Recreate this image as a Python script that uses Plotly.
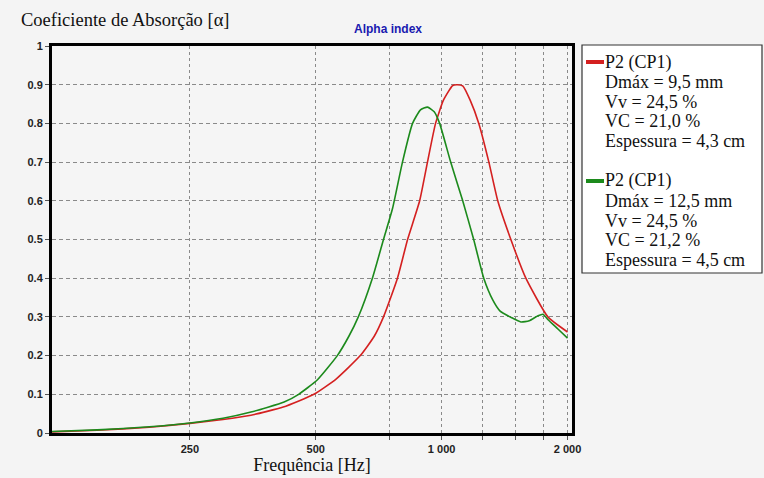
import plotly.graph_objects as go
import numpy as np

# ---- data ----
freq_red = [117, 150, 200, 250, 300, 350, 418, 495, 560, 639, 690, 726, 784, 829, 886,
            925, 967, 1010, 1063, 1090, 1123, 1170, 1227, 1297, 1362, 1464, 1590, 1795, 2000]
alpha_red = [0.003, 0.007, 0.015, 0.025, 0.035, 0.046, 0.067, 0.100, 0.140, 0.200, 0.250, 0.300,
             0.400, 0.500, 0.600, 0.700, 0.800, 0.860, 0.898, 0.900, 0.897, 0.860, 0.800,
             0.700, 0.600, 0.500, 0.400, 0.300, 0.261]

freq_green = [117, 150, 200, 250, 300, 350, 420, 455, 504, 563, 600, 632, 683, 726, 763, 806,
              852, 890, 925, 960, 989, 1051, 1123, 1193, 1261, 1325, 1380, 1470, 1547, 1620,
              1700, 1747, 1800, 1900, 2000]
alpha_green = [0.004, 0.008, 0.016, 0.026, 0.038, 0.054, 0.080, 0.100, 0.137, 0.200, 0.250, 0.300,
               0.400, 0.500, 0.580, 0.700, 0.800, 0.835, 0.842, 0.830, 0.800, 0.700, 0.600, 0.500,
               0.400, 0.344, 0.315, 0.298, 0.287, 0.290, 0.303, 0.307, 0.292, 0.268, 0.245]

x_tick_vals = [250, 500, 1000, 2000]
x_tick_text = ["250", "500", "1 000", "2 000"]
x_grid_extra = [750, 1250, 1500, 1750]
y_tick_vals = [0, 0.1, 0.2, 0.3, 0.4, 0.5, 0.6, 0.7, 0.8, 0.9, 1]
y_tick_text = ["0", "0.1", "0.2", "0.3", "0.4", "0.5", "0.6", "0.7", "0.8", "0.9", "1"]

legend_red = ["P2 (CP1)", "Dmáx = 9,5 mm", "Vv = 24,5 %", "VC = 21,0 %", "Espessura = 4,3 cm"]
legend_green = ["P2 (CP1)", "Dmáx = 12,5 mm", "Vv = 24,5 %", "VC = 21,2 %", "Espessura = 4,5 cm"]

RED = "#d42020"
GREEN = "#1c8a1c"
SERIF = "Liberation Serif, Times New Roman, serif"
SANS = "Liberation Sans, Arial, sans-serif"
TICKFONT = dict(family=SANS, size=11, color="#222", weight="bold")

fig = go.Figure()
fig.add_trace(go.Scatter(x=freq_red, y=alpha_red, mode="lines", name="P2 (CP1) 9,5 mm",
                         line=dict(color=RED, width=1.6, shape="spline", smoothing=0.5),
                         showlegend=False))
fig.add_trace(go.Scatter(x=freq_green, y=alpha_green, mode="lines", name="P2 (CP1) 12,5 mm",
                         line=dict(color=GREEN, width=1.6, shape="spline", smoothing=0.5),
                         showlegend=False))

W, H = 764, 478
L, R, T, B = 52, 192, 46, 45

fig.update_layout(
    width=W, height=H,
    margin=dict(l=L, r=R, t=T, b=B),
    paper_bgcolor="#f4f4f4",
    plot_bgcolor="#f5f5f5",
    showlegend=False,
    xaxis=dict(
        type="log",
        range=[np.log10(117), np.log10(2050)],
        tickmode="array", tickvals=x_tick_vals, ticktext=x_tick_text,
        showgrid=True, griddash="3px,3px", gridcolor="#8a8a8a", gridwidth=1,
        minor=dict(tickmode="array", tickvals=x_grid_extra, showgrid=True,
                   griddash="3px,3px", gridcolor="#8a8a8a", gridwidth=1,
                   ticks="outside", ticklen=4, tickcolor="#555"),
        showline=True, linecolor="black", linewidth=3, mirror=True,
        ticks="outside", ticklen=4, tickcolor="#555",
        tickfont=TICKFONT,
        title=dict(text="Frequência [Hz]", standoff=2,
                   font=dict(family=SERIF, size=18, color="#111")),
        automargin=False,
        zeroline=False,
    ),
    yaxis=dict(
        range=[0, 1],
        tickmode="array", tickvals=y_tick_vals, ticktext=y_tick_text,
        showgrid=True, griddash="4px,3px", gridcolor="#8a8a8a", gridwidth=1,
        showline=True, linecolor="black", linewidth=3, mirror=True,
        ticks="outside", ticklen=4, tickcolor="#555",
        tickfont=TICKFONT,
        zeroline=False,
    ),
)

def px2x(px):
    return (px - L) / 520

def px2y(py):
    return (433 - py) / 387

annotations = [
    dict(text="Coeficiente de Absorção [α]", xref="paper", yref="paper",
         x=px2x(19), y=px2y(20), xanchor="left", yanchor="middle",
         showarrow=False, font=dict(family=SERIF, size=18.5, color="#111")),
    dict(text="Alpha index", xref="paper", yref="paper",
         x=px2x(388), y=px2y(29), xanchor="center", yanchor="middle",
         showarrow=False, font=dict(family=SANS, size=12, color="#1a1ab0", weight="bold")),
]

shapes = [
    dict(type="rect", xref="paper", yref="paper",
         x0=px2x(582), x1=px2x(762), y0=px2y(273), y1=px2y(45),
         fillcolor="white", line=dict(color="#333", width=1.2)),
]

groups = [(legend_red, RED, 62), (legend_green, GREEN, 181)]
for lines, color, y0 in groups:
    shapes.append(dict(type="line", xref="paper", yref="paper",
                       x0=px2x(586), x1=px2x(604), y0=px2y(y0), y1=px2y(y0),
                       line=dict(color=color, width=4)))
    for i, t in enumerate(lines):
        annotations.append(dict(text=t, xref="paper", yref="paper",
                                x=px2x(603), y=px2y(y0 + i * 19.8),
                                xanchor="left", yanchor="middle", showarrow=False,
                                font=dict(family=SERIF, size=18, color="#111")))

fig.update_layout(annotations=annotations, shapes=shapes)

fig.write_html("out.html")
